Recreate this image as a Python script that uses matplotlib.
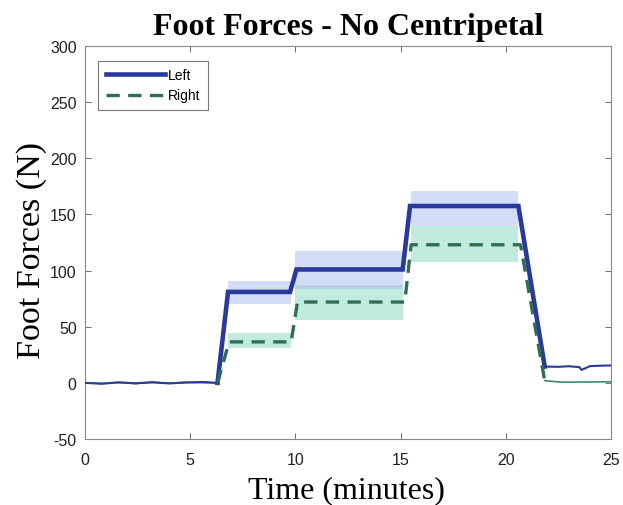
import matplotlib
matplotlib.use("Agg")
import matplotlib.pyplot as plt

plt.rcParams["axes.unicode_minus"] = False

# ---- data ----
step_t_left = [6.3, 6.8, 9.75, 10.05, 15.1, 15.45, 20.6, 21.85]
step_v_left = [0, 81, 81, 101, 101, 157.5, 157.5, 14.5]
step_t_right = [6.3, 6.85, 9.8, 10.1, 15.2, 15.5, 20.7, 21.85]
step_v_right = [0, 36.5, 36.5, 72, 72, 123, 123, 2]

pre_t = [0, 0.8, 1.6, 2.4, 3.2, 4.0, 4.8, 5.6, 6.3]
pre_left = [0, -0.8, 0.5, -0.4, 0.6, -0.5, 0.3, 0.8, 0]
pre_right = [0, -0.5, 0.3, -0.6, 0.4, -0.3, 0.5, 0.2, 0]

post_t = [21.85, 22.5, 23.0, 23.5, 23.6, 24.0, 24.5, 25]
post_left = [14.5, 14.3, 14.8, 14.0, 11.5, 14.9, 15.3, 15.5]
post_right = [2, 0.8, 0.6, 0.9, 0.7, 0.8, 0.9, 1.0]

band_t = [(6.8, 9.8), (10.0, 15.1), (15.5, 20.6)]
band_left = [(70, 91), (84, 117), (140, 171)]
band_right = [(31, 44), (56, 87), (108, 140)]

xticks = [0, 5, 10, 15, 20, 25]
yticks = [-50, 0, 50, 100, 150, 200, 250, 300]

blue = "#2a3a9c"
green = "#2f6e55"

fig = plt.figure(figsize=(6.23, 5.06), dpi=100)
ax = fig.add_axes([0.1364, 0.1304, 0.8443, 0.7767])

for (t0, t1), (lo, hi) in zip(band_t, band_right):
    ax.fill_between([t0, t1], [lo, lo], [hi, hi], color="#8fdcc4", alpha=0.55, lw=0, zorder=1)
for (t0, t1), (lo, hi) in zip(band_t, band_left):
    ax.fill_between([t0, t1], [lo, lo], [hi, hi], color="#a9bdf2", alpha=0.5, lw=0, zorder=1)

# thin raw segments
ax.plot(pre_t, pre_right, color=green, lw=1.2, zorder=2)
ax.plot(pre_t, pre_left, color=blue, lw=1.5, zorder=3)
ax.plot(post_t, post_right, color="#3a8a66", lw=1.2, zorder=2)
ax.plot(post_t, post_left, color=blue, lw=1.5, zorder=3)

ax.plot(step_t_left, step_v_left, color=blue, lw=3.3, solid_joinstyle="miter", zorder=4, label="Left")
ax.plot(step_t_right, step_v_right, color=green, lw=2.4, ls=(0, (4, 2.5)), zorder=5, label="Right")

ax.set_xlim(0, 25)
ax.set_ylim(-50, 300)
ax.set_xticks(xticks)
ax.set_yticks(yticks)
ax.tick_params(direction="in", top=True, right=True, length=4, width=0.6,
               colors="#555555", labelcolor="#222222", labelsize=11.5)
ax.tick_params(axis="x", pad=9)
ax.tick_params(axis="y", pad=6)
for lab in ax.get_xticklabels() + ax.get_yticklabels():
    lab.set_family("Liberation Sans")
for s in ax.spines.values():
    s.set_color("#888888")
    s.set_linewidth(0.8)

ax.set_title("Foot Forces - No Centripetal", family="Liberation Serif", fontweight="bold",
             fontsize=23, pad=9)
ax.set_xlabel("Time (minutes)", family="Liberation Serif", fontsize=23)
ax.set_ylabel("Foot Forces (N)", family="Liberation Serif", fontsize=24.5)
ax.xaxis.label.set_verticalalignment("top")
ax.xaxis.set_label_coords(0.497, -0.093)
ax.yaxis.set_label_coords(-0.073, 0.481)

leg = ax.legend(loc="upper left", bbox_to_anchor=(0.025, 0.963),
                prop={"family": "Liberation Sans", "size": 10},
                frameon=True, fancybox=False, edgecolor="#555555",
                handlelength=4.3, handletextpad=0.2, borderpad=0.55, labelspacing=0.45,
                borderaxespad=0)
leg.get_frame().set_linewidth(0.8)

fig.savefig("out.png", dpi=100)
